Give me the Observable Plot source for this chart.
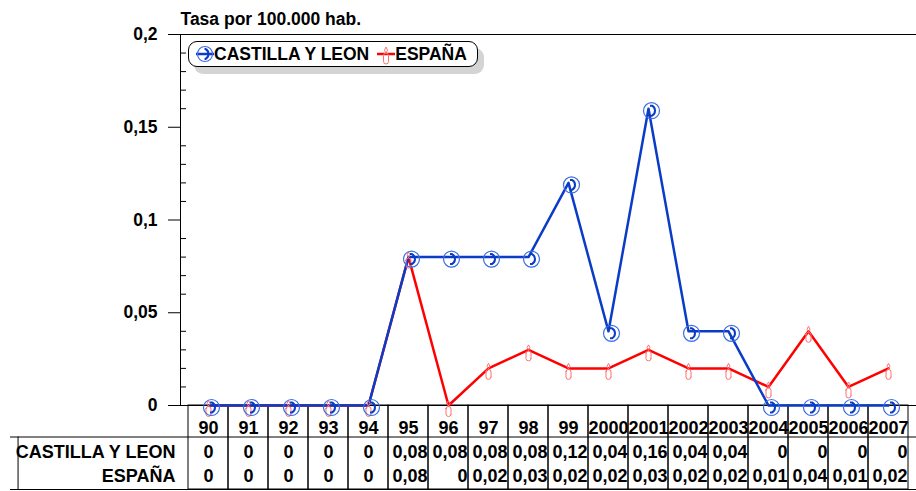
<!DOCTYPE html>
<html>
<head>
<meta charset="utf-8">
<script src="https://cdn.jsdelivr.net/npm/d3@7"></script>
<script src="https://cdn.jsdelivr.net/npm/@observablehq/plot@0.6"></script>
<style>
  html, body { margin: 0; padding: 0; background: #fff; }
  #wrap { position: relative; width: 916px; height: 491px; font-family: "Liberation Sans", Arial, sans-serif; }
  #legend {
    position: absolute; left: 188px; top: 41px; width: 290px; height: 26px;
    border: 1.5px solid #000; border-radius: 9px; background: #fff;
    box-shadow: 6px 7px 0 #d4d4d4;
    display: flex; align-items: center; font-weight: bold; font-size: 17.5px; color: #000;
    box-sizing: border-box; white-space: nowrap;
  }
  #legend svg { display: block; }
</style>
</head>
<body>
<div id="wrap">
  <div id="chart"></div>
  <div id="legend"></div>
</div>
<script>
// ---- data ----
const years = ["90","91","92","93","94","95","96","97","98","99","2000","2001","2002","2003","2004","2005","2006","2007"];
const castilla = [0,0,0,0,0,0.08,0.08,0.08,0.08,0.12,0.04,0.16,0.04,0.04,0,0,0,0];
const espana   = [0,0,0,0,0,0.08,0,0.02,0.03,0.02,0.02,0.03,0.02,0.02,0.01,0.04,0.01,0.02];
const seriesNames = ["CASTILLA Y LEON", "ESPAÑA"];
const yTicks = [0, 0.05, 0.1, 0.15, 0.2];
const yMinorTicks = [0.01,0.02,0.03,0.04,0.06,0.07,0.08,0.09,0.11,0.12,0.13,0.14,0.16,0.17,0.18,0.19];
const title = "Tasa por 100.000 hab.";

// ---- layout ----
const W = 916, H = 491, mL = 180, mR = 0, mT = 34, mB = 86;
const bw = (W - mL - mR) / years.length;
const BLUE = "#0a3cc8", BLUE_LIGHT = "#3c6ee6", RED = "#ff0000", RED_LIGHT = "#ff7070";

const fmt = d => d === 0 ? "0" : String(d).replace(".", ",");
const rows = years.map((year, i) => ({year, cyl: castilla[i], esp: espana[i]}));
const cylData = rows.map(d => ({year: d.year, value: d.cyl}));
const espData = rows.map(d => ({year: d.year, value: d.esp}));
const allZero = d => d.cyl === 0 && d.esp === 0;

const phone = {draw(ctx) {
  ctx.moveTo(-1.5, -5); ctx.lineTo(0.5, -5);
  ctx.bezierCurveTo(4.5, -3, 4.5, 3, 0.5, 5);
  ctx.lineTo(-1.5, 5);
}};
const candle = {draw(ctx) {
  ctx.moveTo(-2.5, 2.5); ctx.arcTo(-2.5, 1, 0, 1, 2.5); ctx.arcTo(2.5, 1, 2.5, 2.5, 2.5);
  ctx.lineTo(2.5, 9); ctx.arcTo(2.5, 11, 0, 11, 2.5); ctx.arcTo(-2.5, 11, -2.5, 9, 2.5); ctx.closePath();
  ctx.moveTo(0, -5); ctx.quadraticCurveTo(3, -2, 0, 0.5); ctx.quadraticCurveTo(-3, -2, 0, -5);
}};

const txt = {frameAnchor: "bottom", lineAnchor: "bottom"};

const chart = Plot.plot({
  width: W, height: H,
  marginLeft: mL, marginRight: mR, marginTop: mT, marginBottom: mB,
  style: {fontFamily: "'Liberation Sans', Arial, sans-serif", fontSize: "18px", fontWeight: "bold", color: "#000", background: "transparent"},
  x: {type: "band", domain: years, padding: 0, axis: null},
  y: {domain: [0, 0.2], axis: null},
  marks: [
    // frame lines
    Plot.ruleY([0.2], {insetLeft: -12, stroke: "#000"}),
    Plot.ruleY([0], {insetLeft: -12, stroke: "#000"}),
    Plot.frame({anchor: "left", stroke: "#000"}),
    Plot.ruleY(yMinorTicks, {insetRight: W - mL - mR - 6, stroke: "#000"}),
    Plot.axisY(yTicks, {tickSize: 12, tickPadding: 11, tickFormat: fmt, label: null, stroke: "#000", fontSize: 17.5}),
    // table grid
    Plot.cell(years, {x: d => d, fill: "none", stroke: "#000", insetTop: 371, insetBottom: -84}),
    Plot.ruleY([0], {dy: 31.5, insetLeft: -170, stroke: "#000"}),
    Plot.ruleY([0], {dy: 84, insetLeft: -170, stroke: "#000"}),
    Plot.ruleX([years[0]], {dx: -bw / 2 - 170, insetTop: 402.5, insetBottom: -84, stroke: "#000"}),
    // table text
    Plot.text(years, {...txt, x: d => d, text: d => d, dy: 28}),
    Plot.text([seriesNames[0]], {frameAnchor: "bottom-left", lineAnchor: "bottom", text: d => d, textAnchor: "end", dx: -5, dy: 52.5}),
    Plot.text([seriesNames[1]], {frameAnchor: "bottom-left", lineAnchor: "bottom", text: d => d, textAnchor: "end", dx: -5, dy: 76.5}),
    Plot.text(rows.filter(allZero), {...txt, x: "year", text: d => fmt(d.cyl), dy: 52.5}),
    Plot.text(rows.filter(allZero), {...txt, x: "year", text: d => fmt(d.esp), dy: 76.5}),
    Plot.text(rows.filter(d => !allZero(d)), {...txt, x: "year", text: d => fmt(d.cyl), dy: 52.5, dx: bw / 2 - 1.5, textAnchor: "end"}),
    Plot.text(rows.filter(d => !allZero(d)), {...txt, x: "year", text: d => fmt(d.esp), dy: 76.5, dx: bw / 2 - 1.5, textAnchor: "end"}),
    // title
    Plot.text([title], {frameAnchor: "top-left", lineAnchor: "bottom", textAnchor: "start", text: d => d, dy: -10, fontSize: 17.5}),
    // series
    Plot.line(espData, {x: "year", y: "value", stroke: RED, strokeWidth: 2.5}),
    Plot.line(cylData, {x: "year", y: "value", stroke: BLUE, strokeWidth: 2.5}),
    Plot.dot(espData, {x: "year", y: "value", symbol: candle, stroke: RED_LIGHT, strokeWidth: 1, fill: "none", r: 5}),
    Plot.dot(cylData, {x: "year", y: "value", r: 8, stroke: BLUE_LIGHT, strokeWidth: 1.2, fill: "none", dx: 3, dy: 2}),
    Plot.dot(cylData, {x: "year", y: "value", symbol: phone, stroke: BLUE, strokeWidth: 2, fill: "none", dx: 3, dy: 2, r: 5})
  ]
});
document.getElementById("chart").appendChild(chart);

// legend
const leg = document.getElementById("legend");
const items = [
  {name: seriesNames[0], color: BLUE, marker: `<circle cx="9" cy="11" r="7.5" fill="none" stroke="${BLUE_LIGHT}" stroke-width="1.2"/><path d="M8.5,6 h1 C13.5,8 13.5,14 9.5,16 h-1" fill="none" stroke="${BLUE}" stroke-width="2"/>`},
  {name: seriesNames[1], color: RED, marker: `<path d="M6.5,12.5 a2.5,2.5 0 0 1 5,0 v6 a2.5,2.5 0 0 1 -5,0 z M9,4 q3,3 0,6.5 q-3,-3.5 0,-6.5" fill="none" stroke="${RED_LIGHT}" stroke-width="1"/>`}
];
items.forEach((it, i) => {
  const s = document.createElementNS("http://www.w3.org/2000/svg", "svg");
  s.setAttribute("width", 18); s.setAttribute("height", 22);
  s.style.marginLeft = i === 0 ? "7px" : "8px";
  s.innerHTML = `<line x1="0" x2="18" y1="11" y2="11" stroke="${it.color}" stroke-width="2.5"/>` + it.marker;
  leg.appendChild(s);
  const t = document.createElement("span");
  t.textContent = it.name;
  leg.appendChild(t);
});
</script>
</body>
</html>
